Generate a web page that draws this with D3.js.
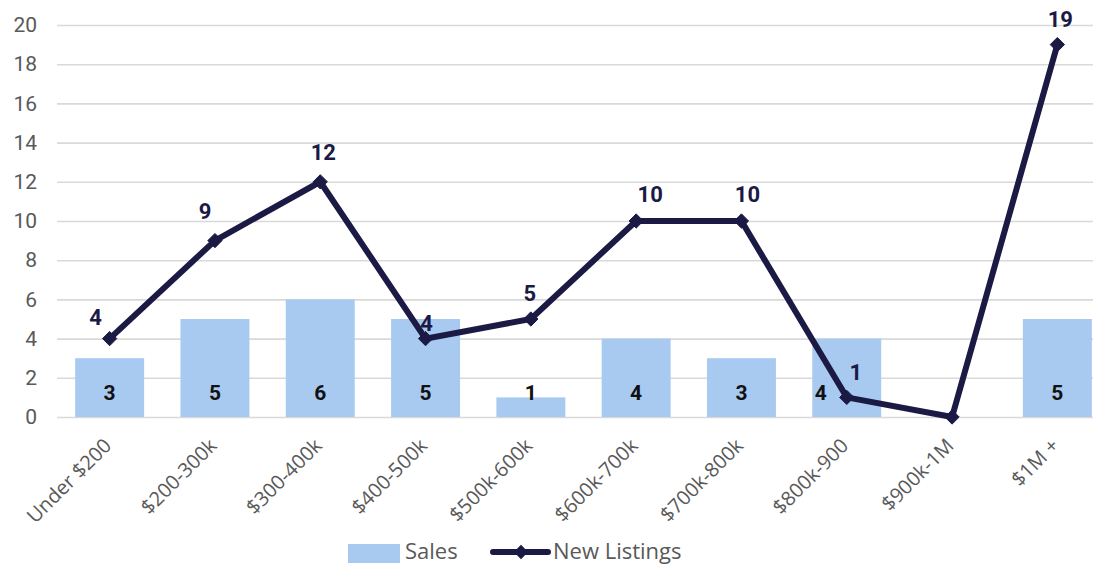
<!DOCTYPE html>
<html>
<head>
<meta charset="utf-8">
<script src="https://cdn.jsdelivr.net/npm/d3@7"></script>
<style>
  body { margin: 0; background: #fff; }
  svg { display: block; }
</style>
</head>
<body>
<div id="chart"><svg></svg></div>
<script>
/*
    Sales vs New Listings by price range
 */

const categories = ["Under $200", "$200-300k", "$300-400k", "$400-500k", "$500k-600k",
    "$600k-700k", "$700k-800k", "$800k-900", "$900k-1M", "$1M +"];
const sales = [3, 5, 6, 5, 1, 4, 3, 4, 0, 5];
const newListings = [4, 9, 12, 4, 5, 10, 10, 1, 0, 19];
const yTicks = [0, 2, 4, 6, 8, 10, 12, 14, 16, 18, 20];

const config = {
    width: 1093,
    height: 567,
    left: 57,
    right: 1110,
    top: 25,
    bottom: 417,
    barColor: "#a8caf1",
    lineColor: "#1b1a44",
    gridColor: "#d9d9d9",
    textColor: "#595959"
};

// label nudges (dx, dy) for the line labels, excel-ish placement
const lineLabelNudge = [[-14, -14], [-10, -22], [3, -22], [1, -8], [-1, -18], [14, -19], [6, -19], [9, -17], [0, -14], [3, -18]];

const data = categories.map((c, i) => ({ cat: c, sales: sales[i], listings: newListings[i] }));

const x = d3.scaleBand().domain(categories).range([config.left, config.right]).paddingInner(0.345).paddingOuter(0.1725);
const y = d3.scaleLinear().domain([0, 20]).range([config.bottom, config.top]);

const svg = d3.select("#chart svg")
    .attr("width", config.width)
    .attr("height", config.height)
    .style("font-family", "Roboto, sans-serif");

// gridlines + y labels
const yAxis = d3.axisLeft(y).tickValues(yTicks).tickSize(-(config.width - config.left)).tickPadding(20);
svg.append("g")
    .attr("class", "y-axis")
    .attr("transform", `translate(${config.left}, 0)`)
    .call(yAxis)
    .call(g => g.select(".domain").remove())
    .call(g => g.selectAll("line").attr("stroke", config.gridColor).attr("stroke-width", 1.6))
    .call(g => g.selectAll("text").attr("fill", config.textColor).attr("font-size", 21).attr("font-family", "Roboto, sans-serif"));

// bars
svg.append("g").selectAll("rect")
    .data(data.filter(d => d.sales > 0))
    .enter()
    .append("rect")
    .attr("x", d => x(d.cat))
    .attr("width", x.bandwidth())
    .attr("y", d => y(d.sales))
    .attr("height", d => y(0) - y(d.sales))
    .attr("fill", config.barColor);

// bar labels
svg.append("g").selectAll("text")
    .data(data.filter(d => d.sales > 0))
    .enter()
    .append("text")
    .attr("x", d => x(d.cat) + x.bandwidth() / 2 + (d.cat === "$800k-900" ? -26 : 0))
    .attr("y", y(0) - 17)
    .attr("text-anchor", "middle")
    .attr("font-size", 21)
    .attr("font-weight", "bold")
    .attr("fill", "#111")
    .text(d => d.sales);

// x labels
svg.append("g").selectAll("text")
    .data(categories)
    .enter()
    .append("text")
    .attr("transform", d => `translate(${x(d) + x.bandwidth() / 2 - 2}, 442) rotate(-45)`)
    .attr("text-anchor", "end")
    .attr("dy", "0.35em")
    .attr("font-size", 20)
    .attr("font-family", "'Open Sans', sans-serif")
    .attr("fill", config.textColor)
    .text(d => d);

// line
const cx = d => x(d.cat) + x.bandwidth() / 2;
const line = d3.line().x(cx).y(d => y(d.listings));

svg.append("path")
    .datum(data)
    .attr("d", line)
    .attr("fill", "none")
    .attr("stroke", config.lineColor)
    .attr("stroke-width", 6)
    .attr("stroke-linejoin", "miter");

const diamond = d3.symbol().type(d3.symbolDiamond2).size(130);
svg.append("g").selectAll("path")
    .data(data)
    .enter()
    .append("path")
    .attr("transform", d => `translate(${cx(d)}, ${y(d.listings)})`)
    .attr("d", diamond)
    .attr("fill", config.lineColor)
    .attr("stroke", config.lineColor);

// line labels
svg.append("g").selectAll("text")
    .data(data.map((d, i) => Object.assign({ i }, d)).filter(d => d.listings > 0))
    .enter()
    .append("text")
    .attr("x", d => cx(d) + lineLabelNudge[d.i][0])
    .attr("y", d => y(d.listings) + lineLabelNudge[d.i][1])
    .attr("text-anchor", "middle")
    .attr("font-size", 22)
    .attr("font-weight", "bold")
    .attr("fill", config.lineColor)
    .text(d => d.listings);

// legend
const legend = svg.append("g").attr("font-family", "'Open Sans', sans-serif").attr("font-size", 22).attr("fill", config.textColor);
legend.append("rect").attr("x", 348).attr("y", 544).attr("width", 52).attr("height", 19).attr("fill", config.barColor);
legend.append("text").attr("x", 405).attr("y", 559).text("Sales");
legend.append("line").attr("x1", 493).attr("x2", 548).attr("y1", 552).attr("y2", 552)
    .attr("stroke", config.lineColor).attr("stroke-width", 6).attr("stroke-linecap", "round");
legend.append("path").attr("transform", "translate(521, 552)").attr("d", diamond).attr("fill", config.lineColor);
legend.append("text").attr("x", 553).attr("y", 559).text("New Listings");
</script>
</body>
</html>
